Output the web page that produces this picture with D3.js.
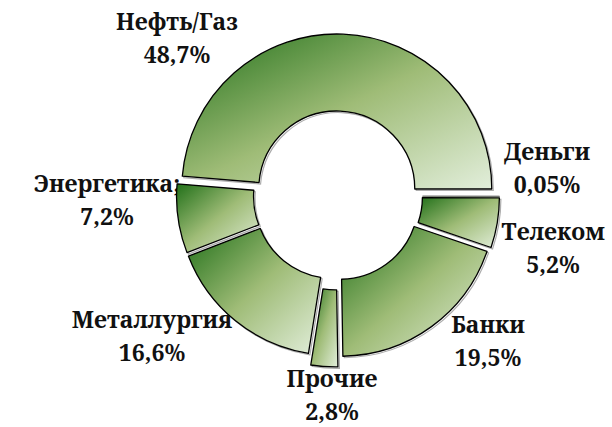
<!DOCTYPE html>
<html>
<head>
<meta charset="utf-8">
<script src="https://cdn.jsdelivr.net/npm/d3@7"></script>
</head>
<body style="margin:0; background:#fff">
<div id="chart"></div>
<script>
// Data, clockwise from 3 o'clock
const sectors = ["Деньги", "Телеком", "Банки", "Прочие", "Металлургия", "Энергетика;", "Нефть/Газ"];
const shares = [0.05, 5.2, 19.5, 2.8, 16.6, 7.2, 48.7];
const shareLabels = ["0,05%", "5,2%", "19,5%", "2,8%", "16,6%", "7,2%", "48,7%"];

const svgWidth = 612;
const svgHeight = 427;

// Layout (not data): centre, radii, explosion per slice, label anchors
const center = {x: 336.5, y: 196};
const innerR = 78;
const outerR = 155;
const explode = [8, 8, 6.5, 16, 5.5, 5, 7];
const labelAnchor = [
	[547, 160], [553, 240], [488, 333], [332, 387], [152, 328], [107, 192], [177, 30]
];
const lineGap = 33;

const svg = d3.select("#chart")
	.append("svg")
	.attr("width", svgWidth)
	.attr("height", svgHeight);

// Diagonal green gradient, one per slice bounding box
const defs = svg.append("defs");
const grad = defs.append("linearGradient")
	.attr("id", "greenGrad")
	.attr("x1", 0).attr("y1", 0)
	.attr("x2", 1).attr("y2", 1);
grad.append("stop").attr("offset", "0%").attr("stop-color", "#217019");
grad.append("stop").attr("offset", "50%").attr("stop-color", "#9fbc77");
grad.append("stop").attr("offset", "100%").attr("stop-color", "#e2eedb");

const data = sectors.map((s, i) => ({name: s, value: shares[i], pct: shareLabels[i], idx: i}));

const pie = d3.pie()
	.sort(null)
	.value(d => d.value)
	.startAngle(Math.PI / 2)
	.endAngle(Math.PI / 2 + 2 * Math.PI);

const arc = d3.arc()
	.innerRadius(innerR)
	.outerRadius(outerR);

const arcs = pie(data);

// Labels first, slices are drawn over them
const labelGroup = svg.append("g");
arcs.forEach(a => {
	const [lx, ly] = labelAnchor[a.data.idx];
	const t = labelGroup.append("text")
		.style("font-family", "\"Noto Serif\", serif")
		.style("font-weight", "bold")
		.style("font-size", "23px")
		.style("fill", "#111")
		.attr("text-anchor", "middle");
	t.append("tspan").attr("x", lx).attr("y", ly).text(a.data.name);
	t.append("tspan").attr("x", lx).attr("y", ly + lineGap).text(a.data.pct);
});

const chartGroup = svg.append("g")
	.attr("transform", `translate(${center.x}, ${center.y})`);

const offset = a => {
	const mid = (a.startAngle + a.endAngle) / 2;
	const d = explode[a.data.idx];
	return [Math.sin(mid) * d, -Math.cos(mid) * d];
};

// soft shadow under each slice
chartGroup.selectAll("path.shadow")
	.data(arcs)
	.enter()
	.append("path")
	.classed("shadow", true)
	.attr("d", arc)
	.attr("transform", a => { const [dx, dy] = offset(a); return `translate(${dx + 1.5}, ${dy + 1.5})`; })
	.attr("fill", "none")
	.attr("stroke", "#777")
	.attr("stroke-width", a => a.endAngle - a.startAngle < 0.01 ? 0 : 1.2)
	.attr("opacity", 0.6);

chartGroup.selectAll("path.slice")
	.data(arcs)
	.enter()
	.append("path")
	.classed("slice", true)
	.attr("d", arc)
	.attr("transform", a => { const [dx, dy] = offset(a); return `translate(${dx}, ${dy})`; })
	.attr("fill", "url(#greenGrad)")
	.attr("stroke", "#000")
	.attr("stroke-width", a => a.endAngle - a.startAngle < 0.01 ? 0.4 : 1.3)
	.attr("stroke-linejoin", "round");
</script>
</body>
</html>
